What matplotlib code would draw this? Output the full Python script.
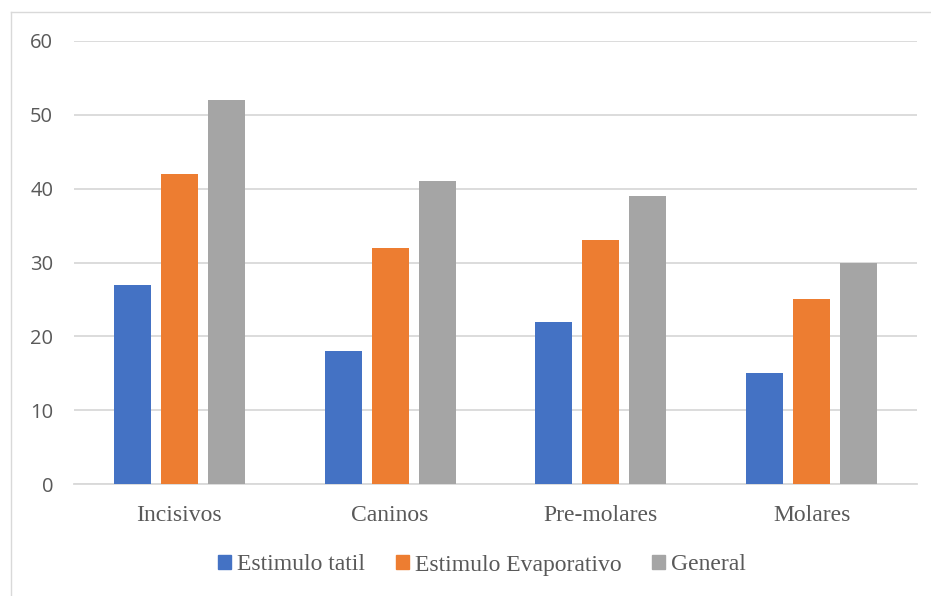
import numpy as np
import matplotlib.pyplot as plt
from matplotlib.lines import Line2D
from matplotlib.patches import Patch

categorias = ['Incisivos', 'Caninos', 'Pre-molares', 'Molares']
tatil = [27, 18, 22, 15]
evaporativo = [42, 32, 33, 25]
general = [52, 41, 39, 30]
series = ['Estimulo tatil', 'Estimulo Evaporativo', 'General']
colores = ['#4472C4', '#ED7D31', '#A5A5A5']

fig = plt.figure(figsize=(9.31, 5.96), dpi=100)
ax = fig.add_axes([74/931, 1-484/596, (917-74)/931, (484-41)/596])

x = np.arange(len(categorias))
w = 0.175
step = 0.223
for i, (vals, col) in enumerate(zip([tatil, evaporativo, general], colores)):
    ax.bar(x + (i-1)*step, vals, w, color=col, zorder=3)

ax.set_xlim(-0.5, 3.5)
ax.set_ylim(0, 60)
ax.set_yticks(range(0, 61, 10))
ax.set_xticks(x)
ax.set_xticklabels(categorias, family='Liberation Serif', fontsize=17, color='#595959')
for t in ax.get_yticklabels():
    t.set_fontfamily('Open Sans')
    t.set_fontsize(14.5)
    t.set_color('#595959')
ax.tick_params(axis='both', length=0)
ax.tick_params(axis='y', pad=15)
ax.tick_params(axis='x', pad=15)
ax.grid(axis='y', color='#d9d9d9', lw=1.3, zorder=0)
for s in ['top', 'right', 'left']:
    ax.spines[s].set_visible(False)
ax.spines['bottom'].set_color('#d9d9d9')
ax.spines['bottom'].set_linewidth(1.3)

# marco del grafico (cortado a la derecha y abajo)
fig.add_artist(Line2D([11/931, 1.0], [1-12/596]*2, transform=fig.transFigure, color='#d9d9d9', lw=1))
fig.add_artist(Line2D([11/931]*2, [0.0, 1-12/596], transform=fig.transFigure, color='#d9d9d9', lw=1))

handles = [Patch(color=c) for c in colores]
fig.legend(handles, series, loc='center', bbox_to_anchor=(482/931, 1-565/596), ncol=3,
           frameon=False, prop={'family': 'Liberation Serif', 'size': 17},
           labelcolor='#595959', handlelength=0.55, handleheight=0.55,
           handletextpad=0.25, columnspacing=1.3)

fig.savefig('out.png', dpi=100)
